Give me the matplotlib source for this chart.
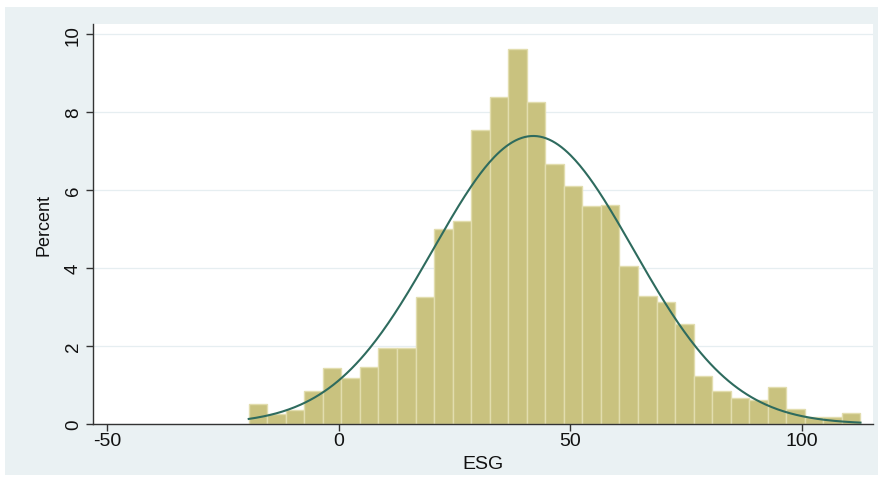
import numpy as np
import matplotlib
matplotlib.use("Agg")
import matplotlib.pyplot as plt
from matplotlib.patches import Rectangle

# histogram of ESG (percent per bin), bins of width 4
bin_start = -19.4
bin_width = 4.0
percent = [0.51, 0.26, 0.37, 0.85, 1.43, 1.18, 1.47, 1.94, 1.94, 3.27,
           5.00, 5.20, 7.54, 8.39, 9.63, 8.25, 6.68, 6.10, 5.58, 5.62,
           4.04, 3.29, 3.14, 2.57, 1.23, 0.85, 0.67, 0.62, 0.94, 0.38,
           0.19, 0.19, 0.28]

# normal overlay parameters
esg_mean = 42.0
esg_sd = 21.6

xticks = [-50, 0, 50, 100]
yticks = [0, 2, 4, 6, 8, 10]

plt.rcParams["font.family"] = ["Liberation Sans", "DejaVu Sans"]
plt.rcParams["axes.unicode_minus"] = False

fig = plt.figure(figsize=(8.83, 4.81), dpi=100, facecolor="white")
fig.patches.append(Rectangle((5 / 883, 5 / 481), 873 / 883, 468 / 481,
                             transform=fig.transFigure, facecolor="#EAF1F3",
                             edgecolor="none", zorder=-10))

ax = fig.add_axes([93 / 883, 56 / 481, 780 / 883, 400 / 481])
ax.set_facecolor("white")

lefts = bin_start + bin_width * np.arange(len(percent))
ax.bar(lefts, percent, width=bin_width, align="edge", color="#C9C27F",
       edgecolor="#E2DDAE", linewidth=1.0, zorder=2)

xs = np.linspace(bin_start, bin_start + bin_width * len(percent), 400)
dens = 100 * bin_width / (esg_sd * np.sqrt(2 * np.pi)) * np.exp(-0.5 * ((xs - esg_mean) / esg_sd) ** 2)
ax.plot(xs, dens, color="#2E6B5E", lw=1.5, zorder=3)

ax.set_xlim(-53, 115.3)
ax.set_ylim(0, 10.26)
ax.set_xticks(xticks)
ax.set_yticks(yticks)
ax.set_yticklabels([str(v) for v in yticks], rotation=90, va="center")
ax.yaxis.grid(True, color="#E6EEF1", lw=0.9, zorder=1)
ax.set_axisbelow(True)

for s in ["top", "right"]:
    ax.spines[s].set_visible(False)
for s in ["left", "bottom"]:
    ax.spines[s].set_color("#333333")
    ax.spines[s].set_linewidth(1.0)

ax.tick_params(axis="both", length=5, width=1.0, color="#333333",
               labelcolor="#111111")
ax.tick_params(axis="x", pad=1, labelsize=14)
ax.tick_params(axis="y", pad=3, labelsize=13.5)

ax.set_xlabel("ESG", fontsize=14, color="#111111", labelpad=4)
ax.set_ylabel("Percent", fontsize=13, color="#111111", labelpad=9)

fig.savefig("out.png", dpi=100, facecolor="white")
